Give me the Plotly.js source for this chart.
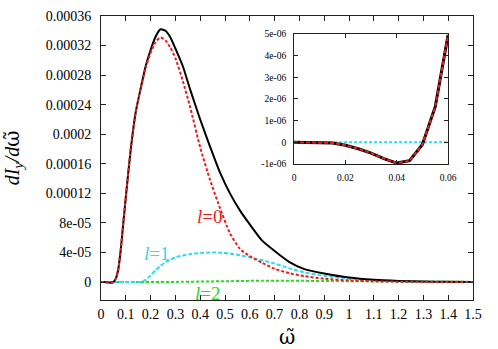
<!DOCTYPE html>
<html>
<head>
<meta charset="utf-8">
<script src="https://cdn.plot.ly/plotly-3.0.1.min.js"></script>
<style>
  body { margin: 0; background: #fff; }
  #chart { width: 498px; height: 349px; }
</style>
</head>
<body>
<div id="chart"></div>
<script>
// 周波数 (main)
const omega = [0, 0.01, 0.02, 0.03, 0.04, 0.05, 0.06, 0.07, 0.08, 0.09, 0.1, 0.12, 0.14, 0.16, 0.18,
    0.2, 0.22, 0.24, 0.26, 0.28, 0.3, 0.33, 0.36, 0.4, 0.44, 0.48, 0.52, 0.56, 0.6, 0.65, 0.7,
    0.76, 0.82, 0.9, 1.0, 1.1, 1.2, 1.3, 1.4, 1.5];

// 合計
const totalVals = [0, 0, -1.4e-7, -5e-7, -9.6e-7, -1e-7, 4.95e-6, 1.8e-5, 4.5e-5, 8e-5, 1.15e-4, 1.8e-4, 2.3e-4, 2.62e-4, 2.92e-4,
    3.14e-4, 3.32e-4, 3.42e-4, 3.40e-4, 3.31e-4, 3.16e-4, 2.92e-4, 2.6e-4, 2.2e-4, 1.83e-4, 1.48e-4, 1.2e-4, 9.7e-5, 7.8e-5, 5.6e-5, 4.2e-5,
    2.7e-5, 1.75e-5, 1.15e-5, 6e-6, 3e-6, 1.5e-6, 7e-7, 3e-7, 1e-7];

// l=0
const l0Vals = [0, 0, -1.4e-7, -5e-7, -9.6e-7, -1e-7, 4.95e-6, 1.8e-5, 4.5e-5, 8e-5, 1.15e-4, 1.8e-4, 2.3e-4, 2.62e-4, 2.9e-4,
    3.1e-4, 3.25e-4, 3.31e-4, 3.27e-4, 3.17e-4, 3.03e-4, 2.72e-4, 2.36e-4, 1.82e-4, 1.38e-4, 1.0e-4, 6.6e-5, 4.5e-5, 3.5e-5, 2.6e-5, 1.8e-5,
    1.2e-5, 8e-6, 4.5e-6, 2e-6, 1e-6, 5e-7, 2e-7, 1e-7, 0];

// l=1
const l1Vals = [0, 0, 0, 0, 0, 0, 0, 0, 0, 0, 0, 0, 0, 0, 3e-6,
    9e-6, 1.6e-5, 2.2e-5, 2.7e-5, 3.05e-5, 3.35e-5, 3.6e-5, 3.8e-5, 3.92e-5, 4.0e-5, 3.98e-5, 3.85e-5, 3.62e-5, 3.35e-5, 2.95e-5, 2.5e-5,
    1.85e-5, 1.3e-5, 8.5e-6, 4.5e-6, 2.2e-6, 1e-6, 4e-7, 2e-7, 1e-7];

// l=2
const l2Vals = [0, 0, 0, 0, 0, 0, 0, 0, 0, 0, 0, 0, 0, 0, 0,
    0, 0, 0, 1e-7, 1.5e-7, 2e-7, 3e-7, 4e-7, 6e-7, 8e-7, 1e-6, 1.2e-6, 1.4e-6, 1.6e-6, 1.7e-6, 1.8e-6,
    1.75e-6, 1.6e-6, 1.4e-6, 1.1e-6, 0.9e-6, 0.6e-6, 0.4e-6, 0.3e-6, 0.2e-6];

// インセット
const insetOmega = [0, 0.005, 0.01, 0.015, 0.02, 0.025, 0.03, 0.035, 0.04, 0.045, 0.05, 0.055, 0.06];
const insetTotal = [0, 0, 0, -3e-8, -1.4e-7, -3e-7, -5e-7, -7.5e-7, -9.6e-7, -8.5e-7, -1e-7, 1.64e-6, 4.95e-6];
const insetL0 = [0, 0, 0, -3e-8, -1.4e-7, -3e-7, -5e-7, -7.5e-7, -9.6e-7, -8.5e-7, -1e-7, 1.64e-6, 4.95e-6];
const insetL1 = [0, 0, 0, 0, 0, 0, 0, 0, 0, 0, 0, 0, 0];

// 目盛り
const xTickVals = [0, 0.1, 0.2, 0.3, 0.4, 0.5, 0.6, 0.7, 0.8, 0.9, 1, 1.1, 1.2, 1.3, 1.4, 1.5];
const xTickText = ['0', '0.1', '0.2', '0.3', '0.4', '0.5', '0.6', '0.7', '0.8', '0.9', '1', '1.1', '1.2', '1.3', '1.4', '1.5'];
const yTickVals = [0, 4e-5, 8e-5, 1.2e-4, 1.6e-4, 2e-4, 2.4e-4, 2.8e-4, 3.2e-4, 3.6e-4];
const yTickText = ['0', '4e-05', '8e-05', '0.00012', '0.00016', '0.0002', '0.00024', '0.00028', '0.00032', '0.00036'];
const insetXTickVals = [0, 0.02, 0.04, 0.06];
const insetXTickText = ['0', '0.02', '0.04', '0.06'];
const insetYTickVals = [-1e-6, 0, 1e-6, 2e-6, 3e-6, 4e-6, 5e-6];
const insetYTickText = ['-1e-06', '0', '1e-06', '2e-06', '3e-06', '4e-06', '5e-06'];

const SERIF = 'Times New Roman, Liberation Serif, DejaVu Serif, serif';
const RED = '#ee1c1c';
const CYAN = '#2edcf0';
const GREEN = '#22dd22';

function init() {
    const data = [
        { x: omega, y: l2Vals, mode: 'lines', line: { color: GREEN, width: 2, dash: '3px,2px', shape: 'spline', smoothing: 0.6 } },
        { x: omega, y: l1Vals, mode: 'lines', line: { color: CYAN, width: 2, dash: '4px,2px', shape: 'spline', smoothing: 0.6 } },
        { x: omega, y: totalVals, mode: 'lines', line: { color: '#000', width: 2, shape: 'spline', smoothing: 0.6 } },
        { x: omega, y: l0Vals, mode: 'lines', line: { color: RED, width: 2, dash: '3px,2px', shape: 'spline', smoothing: 0.6 } },

        { x: insetOmega, y: insetL1, xaxis: 'x2', yaxis: 'y2', mode: 'lines', line: { color: CYAN, width: 2, dash: '3px,2px' } },
        { x: insetOmega, y: insetTotal, xaxis: 'x2', yaxis: 'y2', mode: 'lines', line: { color: '#000', width: 3 } },
        { x: insetOmega, y: insetL0, xaxis: 'x2', yaxis: 'y2', mode: 'lines', line: { color: RED, width: 2, dash: '4px,2px' } }
    ];

    const axisCommon = {
        showgrid: false,
        zeroline: false,
        showline: true,
        linecolor: '#222',
        linewidth: 1,
        mirror: 'ticks',
        ticks: 'inside',
        tickcolor: '#222',
        tickmode: 'array'
    };

    const layout = {
        width: 498,
        height: 349,
        margin: { l: 101, r: 25, t: 16, b: 49 },
        paper_bgcolor: '#fff',
        plot_bgcolor: '#fff',
        showlegend: false,
        font: { family: SERIF, color: '#000' },
        xaxis: Object.assign({}, axisCommon, {
            domain: [0, 1],
            range: [0, 1.5],
            tickvals: xTickVals,
            ticktext: xTickText,
            ticklen: 5,
            tickfont: { family: SERIF, size: 14 },
            ticklabelstandoff: 1
        }),
        yaxis: Object.assign({}, axisCommon, {
            domain: [0, 1],
            range: [-2.43e-5, 3.6e-4],
            tickvals: yTickVals,
            ticktext: yTickText,
            ticklen: 5,
            tickfont: { family: SERIF, size: 14 },
            ticklabelstandoff: 6
        }),
        xaxis2: Object.assign({}, axisCommon, {
            anchor: 'y2',
            domain: [0.519, 0.933],
            range: [0, 0.06],
            tickvals: insetXTickVals,
            ticktext: insetXTickText,
            ticklen: 4,
            tickfont: { family: SERIF, size: 9.5 },
            ticklabelstandoff: 5
        }),
        yaxis2: Object.assign({}, axisCommon, {
            anchor: 'x2',
            domain: [0.479, 0.937],
            range: [-1e-6, 5e-6],
            tickvals: insetYTickVals,
            ticktext: insetYTickText,
            ticklen: 4,
            tickfont: { family: SERIF, size: 9.5 },
            ticklabelstandoff: 5
        }),
        annotations: [
            {
                text: '<i>dI<sub>y</sub>/d</i><span style="font-family:DejaVu Serif">ω̃</span>',
                xref: 'paper', yref: 'paper',
                x: -0.236, y: 0.5,
                xanchor: 'center', yanchor: 'middle',
                textangle: -90,
                showarrow: false,
                font: { family: SERIF, size: 20 }
            },
            {
                text: '<span style="font-family:DejaVu Serif">ω̃</span>',
                xref: 'paper', yref: 'paper',
                x: 0.5, y: -0.13,
                xanchor: 'center', yanchor: 'middle',
                showarrow: false,
                font: { family: SERIF, size: 20 }
            },
            {
                text: '<i>l</i>=0', x: 0.44, y: 8.9e-5, xref: 'x', yref: 'y',
                showarrow: false, font: { family: SERIF, size: 19, color: RED }
            },
            {
                text: '<i>l</i>=1', x: 0.226, y: 3.8e-5, xref: 'x', yref: 'y',
                showarrow: false, font: { family: SERIF, size: 19, color: CYAN }
            },
            {
                text: '<i>l</i>=2', x: 0.431, y: -1.5e-5, xref: 'x', yref: 'y',
                showarrow: false, font: { family: SERIF, size: 19, color: GREEN }
            }
        ]
    };

    Plotly.newPlot('chart', data, layout, { staticPlot: true });
}

document.addEventListener('DOMContentLoaded', () => {
    init();
});
</script>
</body>
</html>
